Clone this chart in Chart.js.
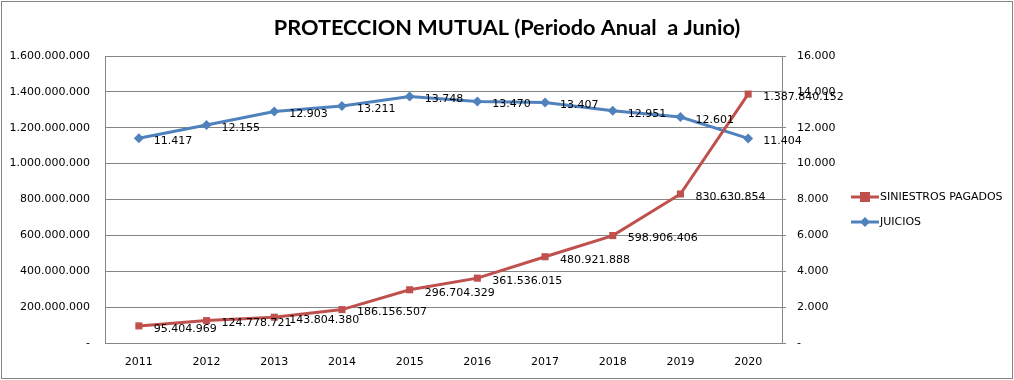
<!DOCTYPE html>
<html>
<head>
<meta charset="utf-8">
<script src="https://cdn.jsdelivr.net/npm/chart.js@4/dist/chart.umd.min.js"></script>
<style>
html,body{margin:0;padding:0;background:#fff;}
#wrap{width:1014px;height:380px;position:relative;}
</style>
</head>
<body>
<div id="wrap"><canvas id="c" width="1014" height="380"></canvas></div>
<script>
const chartTitle = 'PROTECCION MUTUAL (Periodo Anual  a Junio)';
const years = ['2011','2012','2013','2014','2015','2016','2017','2018','2019','2020'];
const siniestrosPagados = [95404969,124778721,143804380,186156507,296704329,361536015,480921888,598906406,830630854,1387840152];
const juicios = [11417,12155,12903,13211,13748,13470,13407,12951,12601,11404];
const seriesNames = ['SINIESTROS PAGADOS','JUICIOS'];

const RED = '#C0504D', BLUE = '#4F81BD', GRID = '#868686';
const FONT = 'DejaVu Sans';

function fmt(v){
  if (v === 0) return '-';
  return Math.round(v).toString().replace(/\B(?=(\d{3})+(?!\d))/g, '.');
}

const framePlugin = {
  id: 'frame',
  beforeDraw(chart){
    const ctx = chart.ctx;
    ctx.save();
    ctx.fillStyle = '#fff';
    ctx.fillRect(0,0,chart.width,chart.height);
    ctx.strokeStyle = GRID;
    ctx.lineWidth = 1;
    ctx.strokeRect(1.5,1.5,chart.width-3,chart.height-3);
    ctx.restore();
  },
  afterDraw(chart){
    const ctx = chart.ctx;
    ctx.save();
    // title
    ctx.fillStyle = '#000';
    ctx.font = 'bold 21.7px Lato';
    ctx.textAlign = 'center';
    ctx.textBaseline = 'middle';
    ctx.fillText(chartTitle, 507, 28);
    // legend
    const items = [
      {name: seriesNames[0], color: RED, style: 'rect', y: 197},
      {name: seriesNames[1], color: BLUE, style: 'rectRot', y: 222}
    ];
    items.forEach(it => {
      ctx.strokeStyle = it.color;
      ctx.lineWidth = 3;
      ctx.beginPath();
      ctx.moveTo(851, it.y); ctx.lineTo(879, it.y);
      ctx.stroke();
      ctx.fillStyle = it.color;
      ctx.beginPath();
      if (it.style === 'rect') { ctx.fillRect(860, it.y-5, 10, 10); }
      else { ctx.moveTo(865,it.y-5); ctx.lineTo(870,it.y); ctx.lineTo(865,it.y+5); ctx.lineTo(860,it.y); ctx.closePath(); ctx.fill(); }
      ctx.fillStyle = '#000';
      ctx.font = '11px ' + FONT;
      ctx.textAlign = 'left';
      ctx.textBaseline = 'middle';
      ctx.fillText(it.name, 880, it.y);
    });
    ctx.restore();
  },
  afterDatasetsDraw(chart){
    const ctx = chart.ctx;
    ctx.save();
    ctx.fillStyle = '#000';
    ctx.font = '11px ' + FONT;
    ctx.textAlign = 'left';
    ctx.textBaseline = 'middle';
    chart.data.datasets.forEach((ds, i) => {
      const meta = chart.getDatasetMeta(i);
      meta.data.forEach((pt, j) => {
        ctx.fillText(fmt(ds.data[j]), pt.x + 15, pt.y + 3);
      });
    });
    ctx.restore();
  }
};

new Chart(document.getElementById('c'), {
  type: 'line',
  data: {
    labels: years,
    datasets: [
      {
        label: seriesNames[0], data: siniestrosPagados, yAxisID: 'y',
        borderColor: RED, backgroundColor: RED, borderWidth: 3,
        pointStyle: 'rect', pointRadius: 5, pointBorderWidth: 0, pointHoverRadius: 5,
        tension: 0, order: 1
      },
      {
        label: seriesNames[1], data: juicios, yAxisID: 'y2',
        borderColor: BLUE, backgroundColor: BLUE, borderWidth: 3,
        pointStyle: 'rectRot', pointRadius: 5, pointBorderWidth: 0, pointHoverRadius: 5,
        tension: 0, order: 2
      }
    ]
  },
  options: {
    responsive: false,
    animation: false,
    events: [],
    layout: { padding: { top: 56, left: 0, right: 172, bottom: 0 } },
    plugins: { legend: { display: false }, title: { display: false }, tooltip: { enabled: false } },
    scales: {
      x: {
        offset: true,
        grid: { display: false, drawTicks: false },
        border: { display: true, color: GRID, width: 1 },
        ticks: { padding: 13, color: '#000', font: { family: FONT, size: 11 }, maxRotation: 0 },
        afterFit(s){ s.height = 37; }
      },
      y: {
        position: 'left', min: 0, max: 1600000000,
        grid: { color: GRID, lineWidth: 1, drawTicks: false },
        border: { display: true, color: GRID, width: 1 },
        ticks: { stepSize: 200000000, padding: 15, color: '#000', font: { family: FONT, size: 11 }, callback: v => fmt(v) },
        afterFit(s){ s.width = 105; }
      },
      y2: {
        position: 'right', min: 0, max: 16000,
        grid: { drawOnChartArea: false, drawTicks: true, tickLength: 4, color: GRID },
        border: { display: true, color: GRID, width: 1 },
        ticks: { stepSize: 2000, padding: 11, color: '#000', font: { family: FONT, size: 11 }, callback: v => fmt(v) },
        afterFit(s){ s.width = 60; }
      }
    }
  },
  plugins: [framePlugin]
});
</script>
</body>
</html>
